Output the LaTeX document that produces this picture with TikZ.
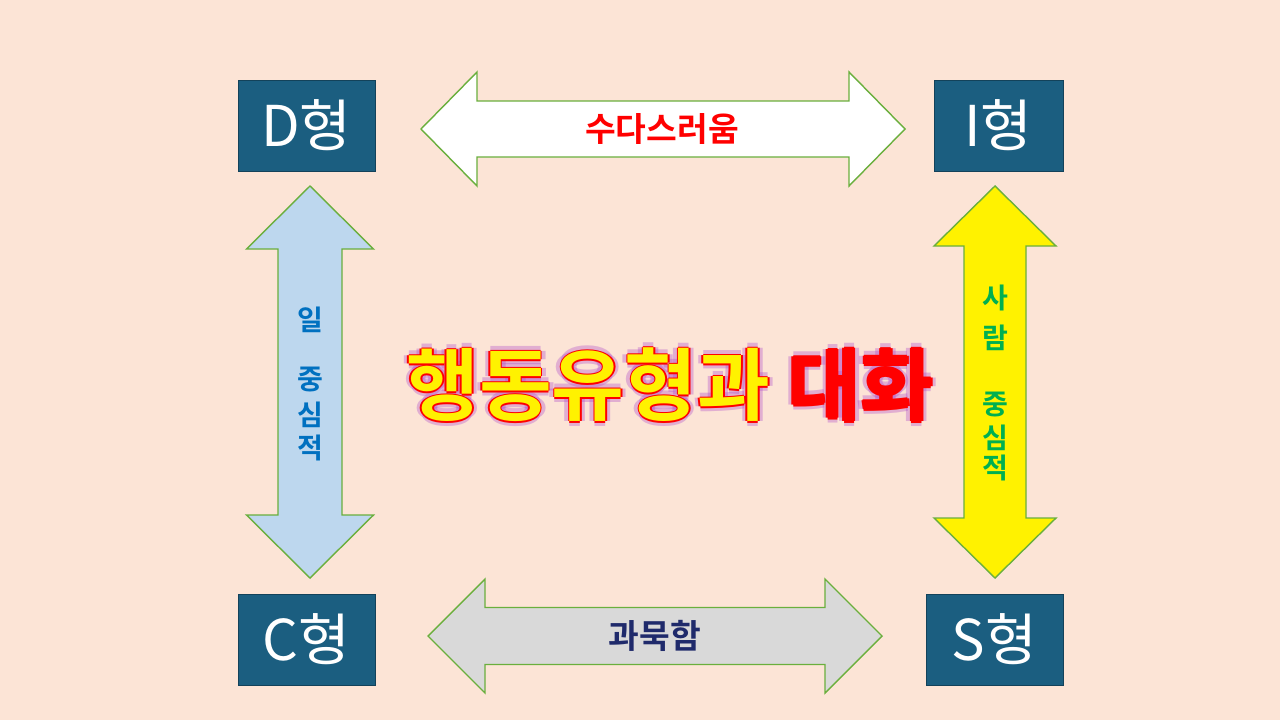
\documentclass[tikz,border=0pt]{standalone}
\usepackage{fontspec}
\setmainfont{Noto Sans CJK KR}
\newfontfamily\krbold{Noto Sans CJK KR Bold}
\definecolor{bgpeach}{HTML}{FCE4D6}
\definecolor{boxteal}{HTML}{1B5E80}
\definecolor{arrowgreen}{HTML}{6AAF3D}
\definecolor{lightblue}{HTML}{BDD7EE}
\definecolor{lightgray}{HTML}{D9D9D9}
\definecolor{navytext}{HTML}{1F2A6B}
\definecolor{bluetext}{HTML}{0070C0}
\definecolor{greentext}{HTML}{00B050}
\definecolor{glow}{HTML}{B04CC8}
\tikzset{%
    typebox/.style={fill=boxteal,draw=boxteal!70!black,text=white,font=\fontsize{32}{32}\selectfont,inner sep=0pt},
    arrowshape/.style={draw=arrowgreen,line width=0.8pt,line join=miter},
    arrowlabel/.style={font=\krbold\fontsize{19}{19}\selectfont},
    vlabel/.style={font=\krbold\fontsize{16}{16}\selectfont},
    titlefont/.style={font=\krbold\fontsize{45}{45}\selectfont},
}
% horizontal double arrow: #1 left x, #2 right x, #3 centre y, #4 half shaft, #5 half head, #6 head length
\newcommand{\hdarrow}[7]{%
    \draw[arrowshape,fill=#7] (#1,#3) -- (#1+#6,#3-#5) -- (#1+#6,#3-#4) -- (#2-#6,#3-#4) -- (#2-#6,#3-#5)
        -- (#2,#3) -- (#2-#6,#3+#5) -- (#2-#6,#3+#4) -- (#1+#6,#3+#4) -- (#1+#6,#3+#5) -- cycle;}
% vertical double arrow: #1 top y, #2 bottom y, #3 centre x, #4 half shaft, #5 half head, #6 head length
\newcommand{\vdarrow}[7]{%
    \draw[arrowshape,fill=#7] (#3,#1) -- (#3+#5,#1+#6) -- (#3+#4,#1+#6) -- (#3+#4,#2-#6) -- (#3+#5,#2-#6)
        -- (#3,#2) -- (#3-#5,#2-#6) -- (#3-#4,#2-#6) -- (#3-#4,#1+#6) -- (#3-#5,#1+#6) -- cycle;}

\begin{document}
\begin{tikzpicture}[x=0.02cm,y=-0.02cm]

    \fill[bgpeach] (0,0) rectangle (1280,720);
    \useasboundingbox (0,0) rectangle (1280,720);

    % type boxes
    \node[typebox,minimum width=137*0.02cm,minimum height=91*0.02cm] (D) at (306.5,125.5) {D형};
    \node[typebox,minimum width=129*0.02cm,minimum height=91*0.02cm] (I) at (998.5,125.5) {I형};
    \node[typebox,minimum width=137*0.02cm,minimum height=91*0.02cm] (C) at (306.5,639.5) {C형};
    \node[typebox,minimum width=137*0.02cm,minimum height=91*0.02cm] (S) at (994.5,639.5) {S형};

    % arrows
    \hdarrow{421}{905}{129}{28}{57}{56}{white}
    \hdarrow{428}{882}{636}{28.5}{57}{57}{lightgray}
    \vdarrow{186}{578}{310}{32}{63.5}{63}{lightblue}
    \vdarrow{186}{578}{995}{31}{61}{60}{yellow}

    % labels
    \node[arrowlabel,text=red] (talk) at (662,129) {수다스러움};
    \node[arrowlabel,text=navytext] (quiet) at (655,636) {과묵함};
    \foreach \ch/\yy in {일/320,중/380,심/415,적/448}
        \node[vlabel,text=bluetext] at (310,\yy) {\ch};
    \foreach \ch/\yy in {사/298,람/338,중/405,심/438,적/468}
        \node[vlabel,text=greentext] at (995,\yy) {\ch};

    % title: glow, red outline, fill
    \foreach \dx/\dy in {-5/0,5/0,0/-5,0/5}
        \node[titlefont,text=glow,opacity=0.35] at (670+\dx,385+\dy) {행동유형과 대화};
    \foreach \dx/\dy in {-1.6/0,1.6/0,0/-1.6,0/1.6}
        \node[titlefont,text=red] at (670+\dx,385+\dy) {행동유형과 대화};
    \node[titlefont] (title) at (670,385) {\textcolor{yellow}{행동유형과} \textcolor{red}{대화}};

\end{tikzpicture}
\end{document}
